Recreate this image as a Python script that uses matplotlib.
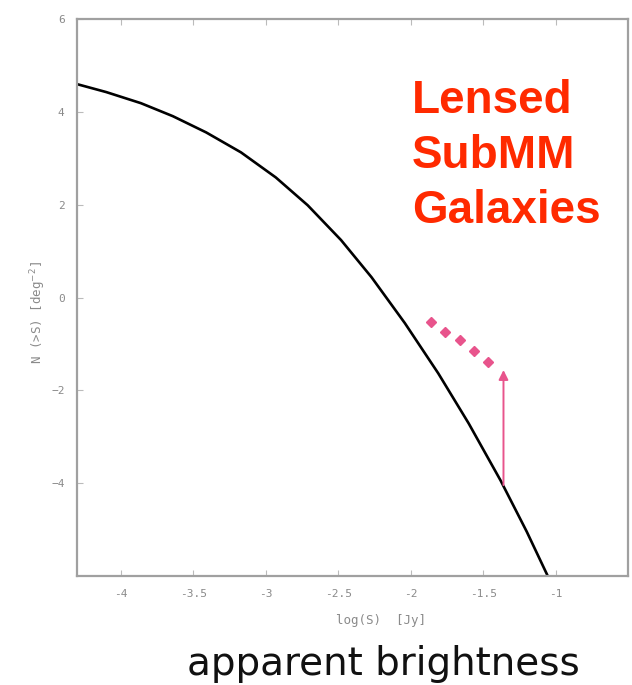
import numpy as np
import matplotlib.pyplot as plt

# number counts curve
log_s = [-4.30, -4.10, -3.86, -3.64, -3.41, -3.17, -2.93, -2.71, -2.48, -2.27,
         -2.04, -1.81, -1.60, -1.38, -1.20, -1.05]
log_n = [4.60, 4.43, 4.19, 3.91, 3.56, 3.13, 2.59, 1.99, 1.24, 0.44,
         -0.55, -1.63, -2.71, -3.94, -5.04, -6.03]

# lensed sub-mm points
lens_s = [-1.86, -1.76, -1.66, -1.56, -1.47]
lens_n = [-0.53, -0.75, -0.92, -1.16, -1.39]

# magnification arrow
arrow_s = -1.36
arrow_from = -4.04
arrow_to = -1.56

xticks = [-4, -3.5, -3, -2.5, -2, -1.5, -1]
yticks = [-4, -2, 0, 2, 4, 6]

pink = '#e8548c'
grey = '#8a8a8a'

fig = plt.figure(figsize=(6.32, 6.85), dpi=100)
ax = fig.add_axes([0.122, 0.159, 0.872, 0.813])

ax.plot(log_s, log_n, color='black', lw=1.9, solid_joinstyle='round')
ax.plot(lens_s, lens_n, 'D', color=pink, ms=5.5, mec=pink)
ax.annotate('', xy=(arrow_s, arrow_to), xytext=(arrow_s, arrow_from),
            arrowprops=dict(arrowstyle='-|>', color=pink, lw=1.4,
                            mutation_scale=14, shrinkA=0, shrinkB=0))

ax.set_xlim(-4.3, -0.5)
ax.set_ylim(-6, 6)
ax.set_xticks(xticks)
ax.set_xticklabels([f'{t:g}' for t in xticks])
ax.set_yticks(yticks)

for sp in ax.spines.values():
    sp.set_color('#a0a0a0')
    sp.set_linewidth(1.6)
ax.tick_params(direction='in', length=4, color='#bbbbbb', labelcolor=grey,
               labelsize=8, pad=9, top=True)
for lab in ax.get_xticklabels() + ax.get_yticklabels():
    lab.set_family('DejaVu Sans Mono')

ax.set_xlabel('log(S)  [Jy]', family='DejaVu Sans Mono', fontsize=9, color=grey)
ax.xaxis.set_label_coords(0.552, -0.068)
ax.set_ylabel('N (>S) [deg$^{-2}$]', family='DejaVu Sans Mono', fontsize=9, color=grey)
ax.yaxis.set_label_coords(-0.053, 0.473)

fig.text(0.652, 0.772, 'Lensed\nSubMM\nGalaxies', color='#ff2a00',
         family='Liberation Sans', weight='bold', fontsize=33,
         linespacing=1.33, ha='left', va='center')

fig.text(0.607, 0.030, 'apparent brightness', color='#111111',
         family='DejaVu Sans', fontsize=28, ha='center', va='center')

fig.savefig('out.png', dpi=100)
